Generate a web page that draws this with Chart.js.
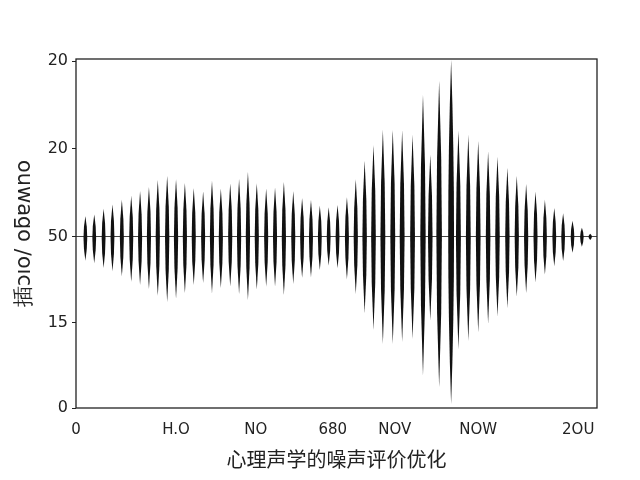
<!DOCTYPE html>
<html>
<head>
<meta charset="utf-8">
<script src="https://cdn.jsdelivr.net/npm/chart.js@4"></script>
<style>
  html, body { margin: 0; padding: 0; background: #fff; }
</style>
</head>
<body>
<canvas id="wave-chart" width="640" height="480"></canvas>
<script>
// spike centre positions along the x axis (0..100)
const spikePos = [
  1.8, 3.5, 5.3, 7.0, 8.8, 10.6, 12.3, 14.0, 15.7, 17.5,
  19.2, 20.9, 22.6, 24.4, 26.1, 27.8, 29.6, 31.3, 33.0, 34.7,
  36.5, 38.2, 39.9, 41.7, 43.4, 45.1, 46.8, 48.5, 50.2, 52.0,
  53.7, 55.4, 57.1, 58.9, 60.8, 62.6, 64.6, 66.6, 68.0, 69.7,
  72.0, 73.4, 75.3, 77.2, 79.1, 80.9, 82.8, 84.6, 86.4, 88.2,
  90.0, 91.8, 93.5, 95.3, 97.1, 98.7
];
// upward and downward amplitude of each spike
const spikeUp = [
  12.1, 13.1, 16.5, 18.9, 21.8, 24.1, 26.9, 29.4, 33.2, 35.8,
  33.9, 31.7, 28.5, 26.6, 32.9, 28.5, 31.4, 33.9, 38.1, 31.5,
  28.5, 29.0, 32.3, 26.7, 22.8, 21.6, 18.2, 17.3, 18.7, 23.2,
  33.8, 44.6, 53.7, 62.6, 62.6, 62.2, 59.6, 83.2, 48.1, 91.3,
  103.4, 62.2, 59.6, 56.0, 49.9, 46.9, 40.4, 35.7, 30.9, 26.5,
  21.8, 16.9, 13.9, 9.5, 5.3, 1.8
];
const spikeDown = [
  13.9, 15.4, 18.2, 20.1, 23.0, 26.2, 28.1, 30.4, 34.5, 38.1,
  36.2, 32.9, 28.1, 27.1, 32.9, 30.0, 29.0, 33.4, 36.8, 30.9,
  29.0, 29.0, 33.8, 27.5, 23.9, 23.5, 19.3, 16.7, 18.3, 24.9,
  33.4, 44.6, 54.4, 62.6, 62.6, 61.5, 59.6, 81.0, 48.9, 87.8,
  97.6, 65.5, 60.9, 55.7, 50.8, 46.3, 41.5, 34.9, 32.9, 26.7,
  22.0, 17.1, 14.2, 9.3, 5.7, 1.8
];

const xTickPos = [0, 19.2, 34.5, 49.3, 61.2, 77.2, 96.4];
const xTickLabels = ['0', 'H.O', 'NO', '680', 'NOV', 'NOW', '2OU'];
const yTickPos = [-100, -50, 0, 51.4, 102.8];
const yTickLabels = ['0', '15', '50', '20', '20'];

Chart.defaults.font.family = "'DejaVu Sans', sans-serif";
Chart.defaults.color = '#222';

// draws each spike as a pointed lens using the bar element geometry
const lensPlugin = {
  id: 'lens',
  afterDatasetsDraw(chart) {
    const ctx = chart.ctx;
    const meta = chart.getDatasetMeta(0);
    const mid = chart.scales.y.getPixelForValue(0);
    ctx.save();
    ctx.fillStyle = '#111';
    meta.data.forEach((bar, i) => {
      const amp = Math.max(spikeUp[i], spikeDown[i]);
      const w = 1.7 + amp / 85;
      ctx.beginPath();
      ctx.moveTo(bar.x, bar.y);
      ctx.quadraticCurveTo(bar.x + 2 * w, mid, bar.x, bar.base);
      ctx.quadraticCurveTo(bar.x - 2 * w, mid, bar.x, bar.y);
      ctx.fill();
    });
    ctx.restore();
  }
};

const framePlugin = {
  id: 'frame',
  afterDraw(chart) {
    const {ctx, chartArea: a} = chart;
    ctx.save();
    ctx.strokeStyle = '#222';
    ctx.lineWidth = 1.3;
    ctx.strokeRect(a.left, a.top, a.right - a.left, a.bottom - a.top);
    ctx.restore();
  }
};

const ctxWave = document.getElementById('wave-chart');

new Chart(ctxWave, {
  type: 'bar',
  data: {
    datasets: [{
      data: spikePos.map((x, i) => ({ x: x, y: [-spikeDown[i], spikeUp[i]] })),
      backgroundColor: 'rgba(0,0,0,0)',
      borderWidth: 0
    }]
  },
  options: {
    responsive: false,
    animation: false,
    devicePixelRatio: 1,
    layout: { padding: { left: 0, right: 43, top: 59, bottom: 0 } },
    plugins: {
      legend: { display: false },
      tooltip: { enabled: false }
    },
    scales: {
      x: {
        type: 'linear',
        min: 0,
        max: 100,
        offset: false,
        afterBuildTicks: (scale) => { scale.ticks = xTickPos.map((v) => ({ value: v })); },
        afterFit: (scale) => { scale.height = 72; },
        grid: { display: false, drawTicks: false, offset: false },
        border: { display: false },
        ticks: {
          autoSkip: false,
          maxRotation: 0,
          padding: 13,
          font: { size: 15 },
          callback: (v, i) => xTickLabels[i]
        },
        title: {
          display: true,
          text: '心理声学的噪声评价优化',
          font: { size: 20, family: "'Noto Sans CJK SC', sans-serif" },
          padding: { top: 0, bottom: 9 }
        }
      },
      y: {
        min: -100,
        max: 104,
        afterBuildTicks: (scale) => { scale.ticks = yTickPos.map((v) => ({ value: v })); },
        afterFit: (scale) => { scale.width = 76; },
        grid: {
          color: (c) => (c.tick && c.tick.value === 0 ? '#444' : 'rgba(0,0,0,0)'),
          tickColor: '#222',
          tickLength: 4,
          lineWidth: 1
        },
        border: { display: false },
        ticks: {
          padding: 4,
          font: { size: 16 },
          callback: (v, i) => yTickLabels[i]
        },
        title: {
          display: true,
          text: '插ɔıo/ oƃɐʍno',
          font: { size: 21 },
          padding: { top: 12, bottom: 0 }
        }
      }
    }
  },
  plugins: [lensPlugin, framePlugin]
});
</script>
</body>
</html>
